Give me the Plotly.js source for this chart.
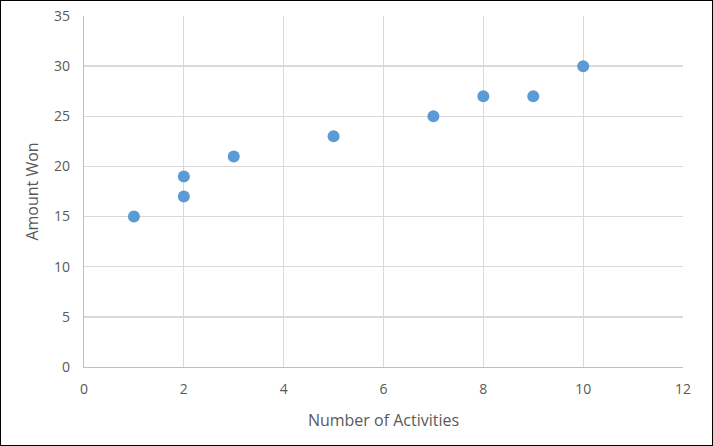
<!DOCTYPE html>
<html>
<head>
<meta charset="utf-8">
<script src="https://cdn.plot.ly/plotly-3.0.1.min.js"></script>
<style>
html,body{margin:0;padding:0;background:#fff;}
#wrap{position:relative;width:713px;height:446px;}
#chart{width:713px;height:446px;}
#frame{position:absolute;left:0;top:0;width:713px;height:446px;box-sizing:border-box;border:1px solid #000;pointer-events:none;}
</style>
</head>
<body>
<div id="wrap"><div id="chart"></div><div id="frame"></div></div>
<script>
var activities = [1, 2, 2, 3, 5, 7, 8, 9, 10];
var amountWon = [15, 19, 17, 21, 23, 25, 27, 27, 30];
var xTickVals = [0, 2, 4, 6, 8, 10, 12];
var yTickVals = [0, 5, 10, 15, 20, 25, 30, 35];

var trace = {
  x: activities,
  y: amountWon,
  mode: 'markers',
  type: 'scatter',
  marker: {color: '#5b9bd5', size: 12}
};
var font = {family: 'Open Sans, Liberation Sans, sans-serif', color: '#595959'};
var layout = {
  width: 713, height: 446,
  margin: {l: 84, r: 30, t: 16, b: 79},
  paper_bgcolor: '#fff', plot_bgcolor: '#fff',
  showlegend: false,
  font: font,
  xaxis: {
    range: [0, 12], tickvals: xTickVals, showgrid: true, gridcolor: '#d9d9d9', gridwidth: 1.3,
    zeroline: false, showline: true, linecolor: '#bfbfbf', linewidth: 1.3,
    ticks: '', ticklabelstandoff: 9, tickfont: {size: 14, color: '#595959'},
    title: {text: 'Number of Activities', font: {size: 16, color: '#595959'}, standoff: 17}
  },
  yaxis: {
    range: [0, 35], tickvals: yTickVals, showgrid: true, gridcolor: '#d9d9d9', gridwidth: 1.3,
    zeroline: false, showline: true, linecolor: '#bfbfbf', linewidth: 1.3,
    ticks: '', ticklabelstandoff: 10, tickfont: {size: 14, color: '#595959'},
    title: {text: 'Amount Won', font: {size: 16, color: '#595959'}, standoff: 11}
  }
};
Plotly.newPlot('chart', [trace], layout, {displayModeBar: false, staticPlot: true});
</script>
</body>
</html>
